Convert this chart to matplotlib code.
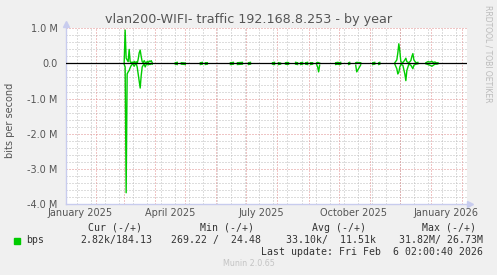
import datetime as dt
import numpy as np
import matplotlib
matplotlib.use("Agg")
import matplotlib.pyplot as plt
from matplotlib.ticker import FuncFormatter

nan = np.nan

# graph covers 400 days ending at the last update
end = dt.datetime(2026, 2, 6, 2, 0, 40)
start = end - dt.timedelta(days=400)

# day offset from start, traffic out (+) and in (-) in Mbit/s, nan = no data
days = [58, 59, 60, 61, 62, 63, 64, 65, 66, 67, 68, 69, 70, 71, 72, 73, 74, 75,
        76, 77, 78, 79, 80, 81, 82, 83, 84, 85, 86, 87,
        109, 111, 114, 115, 119, 120, 122, 123, 134, 136, 138, 139, 141, 142, 144, 145,
        164, 167, 168, 171, 176, 178, 182, 184, 186, 187, 189, 196, 197,
        199, 200, 206, 208, 211, 212, 214, 215, 219, 221, 222, 223, 226, 227,
        229, 231, 233, 234, 236, 237, 239, 241, 243, 244, 246, 247, 250, 251, 252, 253, 254,
        269, 271, 273, 274, 275, 277, 279, 282, 283, 285, 286, 287, 289, 290, 294, 295,
        306, 308, 309, 312, 313, 314,
        328, 330, 331, 332, 333, 334, 336, 338, 339, 340, 342, 344, 345, 346, 347, 349, 351, 352,
        359, 361, 363, 365, 366, 368, 370, 371, 372]
up = [0.0, 0.95, 0.15, 0.1, 0.05, 0.4, 0.05, 0.02, 0.04, 0.0, 0.06, 0.01, 0.05, 0.0, 0.12, 0.3, 0.38, 0.2,
      0.05, 0.02, 0.08, 0.03, 0.0, 0.06, 0.02, 0.07, 0.05, 0.08, 0.02, nan,
      0.02, 0.03, nan, 0.02, 0.01, nan, 0.03, nan, 0.02, 0.03, nan, 0.02, 0.02, nan, 0.03, nan,
      0.02, 0.03, nan, 0.02, 0.03, nan, 0.02, 0.03, nan, 0.02, nan, 0.02, nan,
      0.02, nan, 0.02, 0.03, nan, 0.02, 0.01, nan, 0.02, 0.03, 0.02, nan, 0.02, nan,
      0.03, 0.02, nan, 0.02, 0.03, nan, 0.02, 0.03, nan, 0.02, 0.02, nan, 0.02, 0.03, 0.02, 0.01, nan,
      0.02, 0.03, 0.02, 0.03, nan, 0.02, nan, 0.02, 0.03, nan, 0.02, nan, 0.02, 0.03, 0.02, nan,
      0.02, 0.03, nan, 0.02, 0.03, nan,
      0.02, 0.1, 0.3, 0.56, 0.35, 0.05, 0.02, 0.1, 0.15, 0.05, 0.02, 0.08, 0.2, 0.28, 0.1, 0.02, 0.03, nan,
      0.02, 0.05, 0.04, 0.06, 0.03, 0.04, 0.01, 0.02, nan]
down = [-0.02, -0.1, -3.68, -0.3, -0.24, -0.2, -0.12, -0.06, -0.03, -0.02, -0.08, -0.03, -0.0, -0.1, -0.3, -0.5, -0.7, -0.35,
        -0.1, -0.05, -0.02, -0.1, -0.03, -0.01, -0.04, -0.02, -0.03, -0.01, -0.02, nan,
        -0.02, -0.03, nan, -0.02, -0.03, nan, -0.02, nan, -0.03, -0.02, nan, -0.03, -0.02, nan, -0.02, nan,
        -0.03, -0.02, nan, -0.03, -0.02, nan, -0.03, -0.02, nan, -0.03, nan, -0.02, nan,
        -0.03, nan, -0.02, -0.03, nan, -0.03, -0.02, nan, -0.02, -0.03, -0.02, nan, -0.03, nan,
        -0.02, -0.03, nan, -0.03, -0.02, nan, -0.02, -0.03, nan, -0.03, -0.02, nan, -0.03, -0.1, -0.24, -0.05, nan,
        -0.03, -0.02, -0.03, -0.02, nan, -0.03, nan, -0.03, -0.02, nan, -0.03, nan, -0.05, -0.24, -0.04, nan,
        -0.03, -0.02, nan, -0.03, -0.02, nan,
        -0.02, -0.15, -0.3, -0.25, -0.1, -0.03, -0.05, -0.3, -0.49, -0.2, -0.02, -0.05, -0.1, -0.15, -0.05, -0.02, -0.01, nan,
        -0.01, -0.03, -0.05, -0.08, -0.06, -0.02, -0.02, -0.01, nan]

y_ticks = [1, 0, -1, -2, -3, -4]
label_months = [dt.datetime(2025, 1, 16), dt.datetime(2025, 4, 16), dt.datetime(2025, 7, 16),
                dt.datetime(2025, 10, 16), dt.datetime(2026, 1, 16)]
label_text = ["January 2025", "April 2025", "July 2025", "October 2025", "January 2026"]

bg = "#F0F0F0"
green = "#00CC00"
red_grid = "#E08C8C"
gray_grid = "#BDBDBD"
axis_col = "#C8CCEE"
text_col = "#555555"

fig = plt.figure(figsize=(4.97, 2.75), dpi=100, facecolor=bg)
ax = fig.add_axes([66 / 497, 71 / 275, 401 / 497, 175.7 / 275])
ax.set_facecolor("white")

x = [start + dt.timedelta(days=d) for d in days]

ax.set_xlim(start, end)
ax.set_ylim(-4, 1)

# grid, dotted
dot = (0, (1, 2))
gkw = dict(lw=0.72, ls=dot)
for v in np.arange(-4, 1.01, 0.2):
    if abs(v - round(v)) > 1e-6:
        ax.axhline(v, color=gray_grid, zorder=1, **gkw)
d = dt.datetime(2025, 1, 13)
while d < end:
    ax.axvline(d, color=gray_grid, zorder=1, **gkw)
    d += dt.timedelta(days=14)
for v in y_ticks:
    ax.axhline(v, color=red_grid, zorder=2, **gkw)
m = dt.datetime(2025, 2, 1)
while m < end:
    ax.axvline(m, color=red_grid, zorder=2, **gkw)
    m = dt.datetime(m.year + (m.month == 12), m.month % 12 + 1, 1)

ax.plot(x, up, color=green, lw=1.0, zorder=4)
ax.plot(x, down, color=green, lw=1.0, zorder=4)
ax.axhline(0, color="black", lw=0.9, zorder=5)

ax.set_yticks(y_ticks)
ax.yaxis.set_major_formatter(FuncFormatter(lambda v, p: "0.0" if v == 0 else "%.1f M" % v))
ax.set_xticks(label_months)
ax.set_xticklabels(label_text)
ax.tick_params(length=0, labelsize=7, colors=text_col, pad=3)
ax.tick_params(axis="y", pad=6)

for s in ["top", "right"]:
    ax.spines[s].set_visible(False)
for s in ["left", "bottom"]:
    ax.spines[s].set_color(axis_col)
    ax.spines[s].set_linewidth(1.0)
ax.plot([0], [1.025], marker="^", ms=5, color=axis_col, transform=ax.transAxes, clip_on=False, zorder=6)
ax.plot([1.008], [0], marker=">", ms=5, color=axis_col, transform=ax.transAxes, clip_on=False, zorder=6)

fig.text(248.5 / 497, 1 - 19 / 275, "vlan200-WIFI- traffic 192.168.8.253 - by year",
         ha="center", va="center", fontsize=9.2, color=text_col)
fig.text(10 / 497, 1 - 120 / 275, "bits per second", rotation=90, ha="center", va="center",
         fontsize=7, color=text_col)
fig.text(488 / 497, 1 - 5 / 275, "RRDTOOL / TOBI OETIKER", rotation=270, ha="center", va="top",
         fontsize=5.5, color="#BBBBBB")

mono = dict(family="DejaVu Sans Mono", fontsize=7.1, color="#333333", va="center")
def ftxt(xr, yc, s, ha="right", **kw):
    opts = dict(mono)
    opts.update(kw)
    fig.text(xr / 497, 1 - yc / 275, s, ha=ha, **opts)

ftxt(142, 227.7, "Cur (-/+)")
ftxt(254.5, 227.7, "Min (-/+)")
ftxt(365.5, 227.7, "Avg (-/+)")
ftxt(476.5, 227.7, "Max (-/+)")
fig.patches.append(plt.Rectangle((14 / 497, 1 - 243.5 / 275), 6 / 497, 6 / 275,
                                 transform=fig.transFigure, color=green))
ftxt(26.5, 240, "bps", ha="left")
ftxt(152, 240, "2.82k/184.13")
ftxt(261, 240, "269.22 /  24.48")
ftxt(375.5, 240, "33.10k/  11.51k")
ftxt(483, 240, "31.82M/ 26.73M")
ftxt(483, 251.7, "Last update: Fri Feb  6 02:00:40 2026")
fig.text(248.5 / 497, 1 - 264 / 275, "Munin 2.0.65", ha="center", va="center",
         fontsize=5.8, color="#C4C4C4")

fig.savefig("out.png", dpi=100, facecolor=bg)
